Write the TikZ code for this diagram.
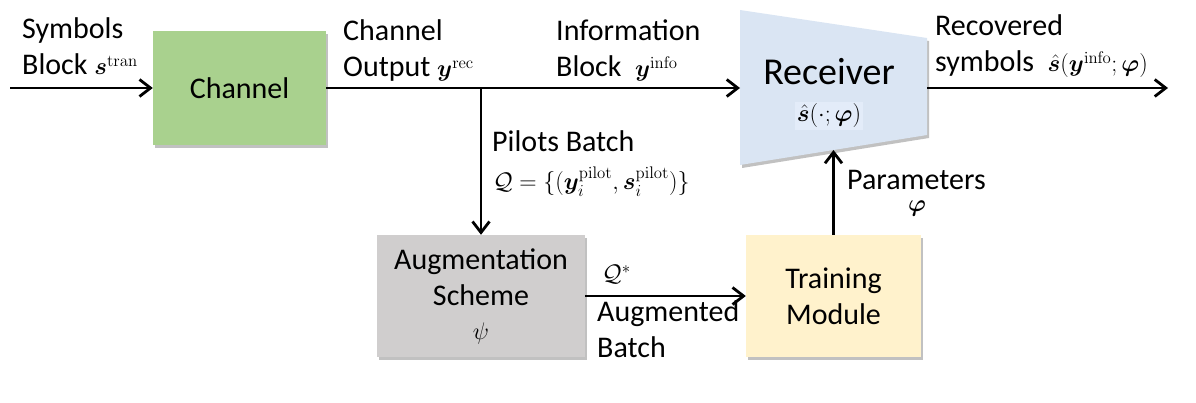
\RequirePackage{fix-cm}
\documentclass[tikz,border=0pt]{standalone}
\usepackage{amsmath,bm}
\usepackage[no-math]{fontspec}
\setmainfont{Carlito}
\usetikzlibrary{arrows.meta,shadows}
\definecolor{chgreen}{HTML}{A9D18E}
\definecolor{auggray}{HTML}{D0CECE}
\definecolor{trainyel}{HTML}{FFF2CC}
\definecolor{recblue}{HTML}{DAE5F3}
\definecolor{reclab}{HTML}{E3ECF9}
\newcommand\tx{\fontsize{30}{36}\selectfont}
\newcommand\mth[1]{{\fontsize{24}{28}\selectfont$#1$}}
\begin{document}
\begin{tikzpicture}[x=1pt,y=-1pt,
  shad/.style={drop shadow={shadow xshift=2pt,shadow yshift=-3pt,opacity=0.35,fill=black!70}},
  box/.style={draw=none,align=center,font=\tx,inner sep=0pt,shad},
  arr/.style={line width=2.8pt,-{Straight Barb[length=11pt,width=17pt,line width=2.8pt]}},
  lbl/.style={font=\tx,inner sep=0pt,anchor=base west,align=left},
  clbl/.style={font=\tx,inner sep=0pt,anchor=base,align=center}]
\useasboundingbox (0,0) rectangle (1196,403);
% boxes
\node[box,fill=chgreen,minimum width=173pt,minimum height=114pt] (chan) at (239.5,88) {Channel};
\node[box,fill=auggray,minimum width=208pt,minimum height=122pt] (aug) at (481,296) {Augmentation\\Scheme\\[-2pt]\mth{\psi}};
\node[box,fill=trainyel,minimum width=175pt,minimum height=122pt] (train) at (833.5,296) {Training\\Module};
% receiver
\coordinate (rTL) at (740,10);
\coordinate (rTR) at (927,38);
\coordinate (rBR) at (927,135);
\coordinate (rBL) at (740,165);
\fill[recblue,shad] (rTL) -- (rTR) -- (rBR) -- (rBL) -- cycle;
\node[font=\fontsize{38}{44}\selectfont,inner sep=0pt,anchor=base] (rec) at (829,85) {Receiver};
\node[fill=reclab,inner sep=2pt,anchor=base] (recf) at (829,122) {\mth{\hat{\bm{s}}(\cdot;\bm{\varphi})}};
% connector coordinates
\coordinate (in) at (10,88);
\coordinate (rin) at (740,88);
\coordinate (rout) at (927,88);
\coordinate (out) at (1168,88);
\coordinate (rbot) at (833.5,150);
\coordinate (branch) at (481,88);
% connectors
\draw[arr] (in) -- (chan.west);
\draw[arr] (chan.east) -- (rin);
\draw[arr] (branch) -- (aug.north);
\draw[arr] (aug.east) -- (train.west);
\draw[arr] (train.north) -- (rbot);
\draw[arr] (rout) -- (out);
% labels
\node[lbl] (l1) at (22,75) {Symbols\\Block \mth{\bm{s}^{\mathrm{tran}}}};
\node[lbl] (l2) at (343,77) {Channel\\Output \mth{\bm{y}^{\mathrm{rec}}}};
\node[lbl] (l3) at (556,77) {Information\\Block \ \mth{\bm{y}^{\mathrm{info}}}};
\node[lbl] (l4) at (935,72) {Recovered\\symbols \ \mth{\hat{\bm{s}}(\bm{y}^{\mathrm{info}};\bm{\varphi})}};
\node[lbl] (l5) at (492,152) {Pilots Batch};
\node[lbl] (l6) at (493,190) {\mth{\mathcal{Q}=\{(\bm{y}_i^{\mathrm{pilot}},\bm{s}_i^{\mathrm{pilot}})\}}};
\node[lbl] (l7) at (847,190) {Parameters};
\node[clbl] (l8) at (917,212) {\mth{\bm{\varphi}}};
\node[lbl] (l9) at (602,282) {\mth{\mathcal{Q}^*}};
\node[lbl] (l10) at (597,357) {Augmented\\Batch};
\end{tikzpicture}
\end{document}
